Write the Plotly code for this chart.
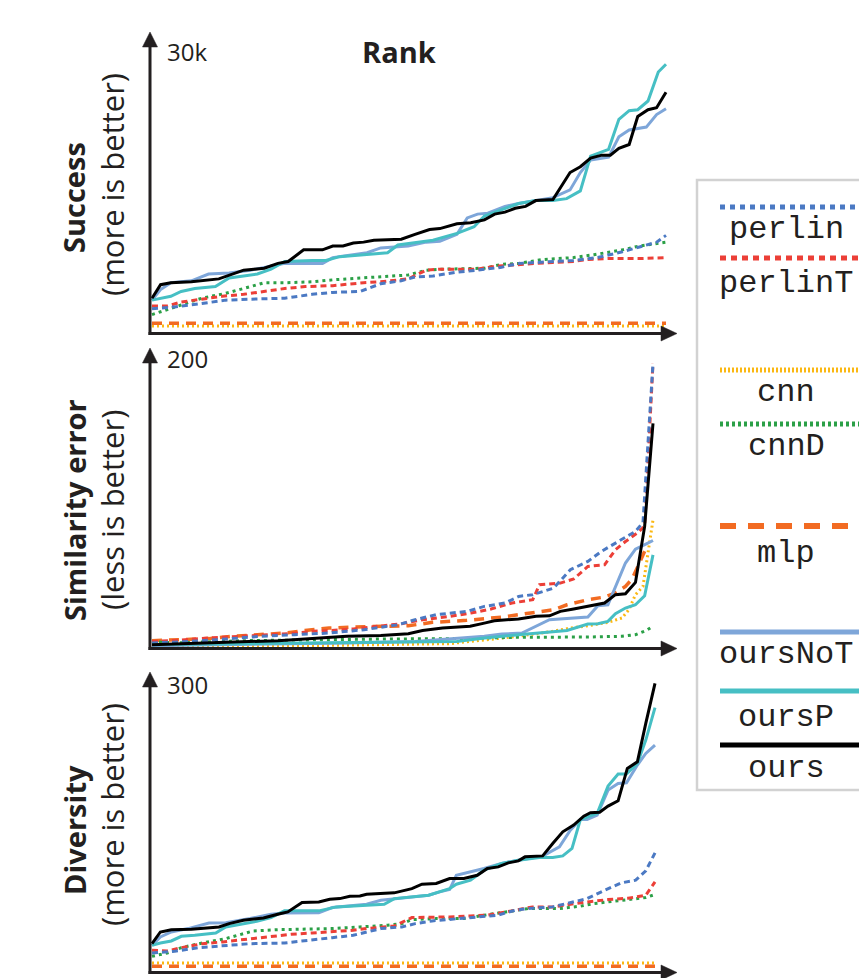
import plotly.graph_objects as go

W, H = 859, 978

# ---------------- DATA (rank 0..60) ----------------
# Panel 1: Success (thousands)
succ_perlin_r = [0, 2.6, 5.4, 8.6, 11.5, 15.5, 18.7, 21.1, 24.3, 26.7, 29.1, 30.7, 32.8, 35.6, 38.0, 40.8, 42.8, 46.8, 49.2, 52.0, 54.9, 56.9, 58.9, 60]
succ_perlin_v = [2.5, 2.7, 3.0, 3.4, 3.5, 3.6, 4.0, 4.2, 4.3, 5.1, 5.4, 5.8, 5.9, 6.3, 6.5, 6.8, 7.2, 7.4, 7.5, 7.8, 8.4, 8.9, 9.4, 10.1]
succ_perlinT_r = [0, 1.8, 3.4, 5.8, 8.2, 10.7, 13.1, 15.5, 17.9, 21.1, 24.7, 26.7, 29.9, 32.0, 33.6, 36.0, 38.0, 40.0, 42.8, 44.8, 46.8, 49.2, 50.8, 53.3, 56.9, 60]
succ_perlinT_v = [2.8, 2.8, 3.2, 3.5, 3.8, 4.0, 4.3, 4.6, 4.8, 4.9, 5.2, 5.3, 5.6, 6.5, 6.6, 6.6, 6.6, 6.9, 7.1, 7.2, 7.3, 7.4, 7.6, 7.7, 7.7, 7.8]
succ_cnn_r = [0, 60]
succ_cnn_v = [0.72, 0.72]
succ_cnnD_r = [0, 1.8, 3.4, 5.8, 8.6, 11.9, 13.1, 15.5, 18.7, 21.1, 24.3, 27.5, 29.9, 32.0, 34.0, 38.8, 40.8, 42.8, 45.6, 49.2, 51.6, 54.9, 56.9, 60]
succ_cnnD_v = [1.9, 2.4, 2.9, 3.6, 4.1, 4.9, 5.2, 5.2, 5.3, 5.5, 5.7, 5.9, 6.0, 6.5, 6.6, 6.7, 7.1, 7.2, 7.6, 7.8, 8.1, 8.6, 9.0, 9.4]
succ_mlp_r = [0, 60]
succ_mlp_v = [1.0, 1.0]
succ_oursNoT_r = [0, 1.0, 2.2, 4.6, 6.6, 9.0, 11.5, 13.9, 15.5, 19.9, 21.1, 25.1, 26.7, 29.9, 32.0, 33.6, 35.6, 36.8, 38.0, 39.2, 41.2, 42.8, 46.8, 48.8, 50.0, 51.2, 53.3, 54.5, 55.7, 57.7, 58.9, 60]
succ_oursNoT_v = [3.4, 4.5, 5.2, 5.4, 6.1, 6.2, 6.5, 6.9, 7.2, 7.2, 7.8, 8.3, 8.8, 9.0, 9.4, 9.5, 10.2, 11.9, 12.3, 12.4, 13.1, 13.4, 14.0, 14.8, 16.6, 17.9, 18.2, 20.3, 21.0, 21.3, 22.6, 23.2]
succ_oursP_r = [0, 1.0, 2.2, 3.4, 5.0, 7.4, 9.0, 10.7, 12.3, 13.9, 15.5, 18.7, 20.3, 21.9, 27.5, 28.7, 32.8, 35.6, 37.6, 38.8, 40.4, 42.8, 44.8, 46.8, 48.4, 50.0, 51.2, 53.3, 54.5, 55.7, 56.7, 57.9, 59.1, 60]
succ_oursP_v = [3.4, 3.6, 3.8, 4.3, 4.6, 4.8, 5.7, 5.9, 6.1, 6.6, 7.4, 7.5, 7.5, 7.9, 8.3, 9.1, 9.6, 10.3, 11.0, 12.1, 12.6, 13.4, 13.7, 13.7, 13.9, 14.7, 18.3, 19.0, 22.1, 23.0, 23.1, 24.0, 27.0, 27.8]
succ_ours_r = [0, 1.0, 2.2, 4.6, 7.8, 9.0, 10.7, 11.9, 13.1, 14.7, 15.9, 17.7, 19.9, 21.1, 22.3, 23.5, 24.7, 25.9, 29.1, 30.7, 32.4, 33.6, 35.6, 37.2, 38.8, 40.0, 41.2, 42.4, 43.6, 44.8, 46.8, 48.8, 50.0, 51.2, 52.5, 53.5, 54.5, 55.7, 56.7, 57.9, 58.9, 60]
succ_ours_v = [3.6, 5.0, 5.2, 5.3, 5.6, 6.0, 6.5, 6.6, 6.7, 7.2, 7.4, 8.6, 8.6, 9.0, 9.0, 9.3, 9.4, 9.6, 9.7, 10.2, 10.7, 10.8, 11.3, 11.4, 11.7, 12.3, 12.5, 12.9, 13.1, 13.7, 13.8, 16.6, 17.2, 18.1, 18.4, 18.4, 19.1, 19.5, 22.4, 23.1, 23.3, 24.9]

# Panel 2: Similarity error
sim_perlin_r = [0, 4.7, 8.9, 13.0, 17.1, 21.2, 25.4, 29.5, 31.5, 34.0, 37.7, 39.8, 42.3, 43.9, 45.6, 48.1, 50.1, 52.2, 53.8, 56.3, 57.9, 58.8, 60]
sim_perlin_v = [3.4, 4.5, 6.1, 8.0, 9.1, 10.2, 12.5, 15.9, 19.3, 22.7, 25.0, 28.4, 30.7, 35.2, 36.4, 40.9, 53.4, 59.1, 65.9, 73.9, 79.6, 85.7, 194.3]
sim_perlinT_r = [0, 2.7, 6.8, 10.9, 15.1, 17.5, 19.2, 21.2, 24.1, 27.4, 29.9, 32.4, 35.7, 38.2, 40.6, 43.1, 45.6, 46.4, 48.9, 50.5, 52.2, 54.2, 55.5, 56.7, 58.1, 59.0, 60]
sim_perlinT_v = [4.5, 5.2, 6.8, 8.0, 9.1, 10.2, 11.4, 11.8, 13.0, 14.8, 16.6, 19.3, 21.6, 23.9, 26.6, 30.7, 33.0, 43.2, 44.3, 47.1, 55.7, 56.8, 67.1, 72.7, 78.4, 83.0, 194.3]
sim_cnn_r = [0, 19.2, 35.7, 39.8, 43.9, 48.0, 50.1, 52.2, 54.6, 56.3, 57.1, 57.9, 58.8, 59.4, 60]
sim_cnn_v = [1.1, 1.6, 3.0, 5.7, 8.0, 11.4, 13.6, 15.2, 17.5, 20.5, 26.1, 36.4, 42.0, 64.8, 87.5]
sim_cnnD_r = [0, 2.7, 10.9, 19.2, 27.4, 35.7, 43.9, 52.2, 56.3, 57.9, 59.2, 60]
sim_cnnD_v = [4.5, 3.4, 5.0, 5.7, 6.1, 6.4, 7.3, 7.5, 8.0, 9.1, 12.0, 14.8]
sim_mlp_r = [0, 2.7, 6.8, 9.7, 12.6, 15.9, 18.3, 21.2, 24.1, 27.4, 30.7, 33.6, 37.7, 41.9, 45.6, 48.1, 49.7, 52.2, 54.2, 55.5, 56.7, 57.5, 59.0]
sim_mlp_v = [5.0, 5.7, 6.4, 8.0, 9.1, 10.2, 12.0, 13.6, 14.3, 14.8, 15.2, 17.5, 18.9, 21.1, 23.9, 26.1, 29.5, 33.0, 34.8, 37.5, 42.0, 47.1, 66.0]
sim_oursNoT_r = [0, 10.9, 23.3, 31.5, 37.7, 39.8, 41.9, 44.3, 47.6, 52.2, 53.4, 54.6, 56.7, 57.9, 59.2, 60]
sim_oursNoT_v = [1.6, 2.3, 3.4, 4.5, 6.8, 8.0, 9.5, 10.2, 19.3, 21.1, 28.9, 29.5, 58.0, 67.5, 71.1, 73.4]
sim_oursP_r = [0, 15.1, 27.4, 36.5, 39.8, 43.9, 48.0, 49.7, 52.2, 53.4, 54.6, 55.5, 56.7, 57.9, 59.0, 60]
sim_oursP_v = [2.3, 3.0, 3.9, 4.5, 6.8, 9.1, 11.4, 12.0, 16.4, 16.6, 18.2, 23.4, 27.3, 29.5, 35.7, 63.6]
sim_ours_r = [0, 6.8, 15.1, 23.3, 27.4, 30.7, 32.4, 34.8, 38.1, 39.8, 41.0, 43.9, 46.0, 47.6, 48.9, 50.5, 52.2, 54.2, 55.5, 56.7, 57.9, 59.0, 60]
sim_ours_v = [2.3, 3.4, 5.0, 8.0, 8.6, 9.8, 12.0, 13.6, 14.8, 17.0, 18.6, 19.8, 21.6, 22.0, 25.0, 26.6, 28.4, 30.7, 36.4, 37.0, 44.8, 83.0, 153.4]

# Panel 3: Diversity
div_perlin_r = [0, 2.7, 5.5, 8.8, 11.7, 15.8, 19.1, 21.5, 24.0, 27.3, 29.8, 31.4, 33.4, 36.3, 38.8, 41.2, 43.3, 44.9, 47.8, 50.3, 51.9, 54.0, 56.0, 57.7, 58.9, 60]
div_perlin_v = [19.5, 21.3, 25.0, 27.4, 29.1, 29.8, 32.6, 35.3, 37.7, 44.6, 46.3, 49.7, 52.5, 54.9, 56.6, 58.3, 63.4, 65.2, 66.9, 72.0, 75.4, 84.0, 91.6, 94.3, 103.9, 122.4]
div_perlinT_r = [0, 1.8, 3.5, 6.0, 8.4, 10.9, 14.2, 16.6, 19.1, 21.5, 24.0, 25.6, 28.9, 31.0, 33.4, 35.5, 38.0, 40.0, 42.9, 45.4, 47.8, 50.3, 51.9, 54.4, 56.8, 58.9, 60]
div_perlinT_v = [22.3, 21.6, 25.0, 29.1, 30.9, 33.3, 36.7, 38.7, 40.1, 41.1, 42.9, 44.6, 47.3, 55.9, 55.9, 56.6, 57.6, 58.3, 62.8, 66.9, 66.9, 70.3, 72.0, 74.4, 75.8, 78.9, 92.6]
div_cnn_r = [0, 60]
div_cnn_v = [9.3, 9.3]
div_cnnD_r = [0, 1.8, 3.5, 6.0, 8.8, 12.1, 15.0, 19.1, 21.5, 24.8, 28.1, 29.8, 31.0, 33.9, 37.2, 39.6, 42.1, 44.9, 48.6, 51.1, 52.7, 56.0, 58.9, 60]
div_cnnD_v = [16.1, 19.5, 25.0, 29.8, 34.3, 42.2, 43.5, 44.6, 44.6, 46.3, 48.0, 49.7, 53.8, 54.9, 54.9, 58.3, 61.7, 65.2, 65.2, 67.6, 70.3, 73.7, 76.5, 79.6]
div_mlp_r = [0, 60]
div_mlp_v = [5.8, 5.8]
div_oursNoT_r = [0, 1.0, 2.3, 4.3, 6.8, 8.8, 11.7, 14.2, 15.8, 19.9, 21.5, 25.6, 27.3, 30.6, 33.0, 34.3, 35.5, 36.3, 38.0, 39.6, 41.7, 43.7, 46.6, 48.6, 49.9, 51.1, 51.9, 53.1, 54.4, 55.6, 56.6, 57.9, 58.9, 60]
div_oursNoT_v = [27.4, 36.0, 41.1, 44.6, 50.4, 50.7, 54.9, 59.3, 60.7, 61.0, 66.2, 69.6, 73.7, 76.5, 78.9, 82.3, 84.7, 99.4, 102.9, 106.3, 111.4, 114.9, 119.0, 128.6, 145.7, 156.7, 156.7, 161.2, 186.9, 193.7, 194.4, 212.6, 224.6, 233.2]
div_oursP_r = [0, 1.0, 2.3, 3.5, 5.1, 7.6, 8.8, 10.9, 12.5, 14.2, 15.8, 19.9, 22.0, 27.7, 28.9, 33.0, 35.5, 36.3, 38.0, 39.6, 41.7, 43.7, 46.2, 47.8, 49.0, 50.1, 51.1, 53.1, 54.4, 55.6, 56.6, 57.9, 58.9, 60]
div_oursP_v = [27.4, 29.8, 31.9, 36.7, 37.7, 40.1, 46.3, 49.7, 52.1, 55.9, 62.8, 62.8, 66.9, 69.6, 75.4, 78.9, 85.7, 90.2, 94.3, 104.6, 111.4, 114.9, 117.6, 117.6, 119.3, 126.9, 156.7, 162.9, 191.0, 203.3, 203.3, 214.3, 238.3, 271.6]
div_ours_r = [0, 1.0, 2.3, 4.7, 8.0, 9.2, 10.9, 12.1, 13.3, 15.0, 16.2, 17.9, 19.9, 21.2, 22.4, 23.6, 24.8, 25.6, 28.9, 31.0, 32.2, 33.9, 35.5, 37.2, 38.8, 40.0, 41.3, 42.5, 43.7, 44.5, 46.6, 47.8, 49.0, 50.3, 51.5, 52.3, 53.4, 54.4, 55.6, 56.7, 57.9, 58.9, 60]
div_ours_v = [29.1, 41.1, 43.5, 43.9, 46.3, 49.7, 53.1, 54.5, 55.5, 59.3, 61.7, 71.3, 72.0, 74.8, 75.4, 77.8, 78.2, 79.9, 81.3, 85.7, 90.2, 90.9, 96.0, 96.0, 99.4, 106.3, 108.0, 112.1, 114.2, 118.3, 119.3, 132.0, 144.0, 150.9, 160.1, 163.6, 164.2, 170.4, 175.9, 209.2, 216.0, 255.5, 296.6]

methods = ["perlin", "perlinT", "cnn", "cnnD", "mlp", "oursNoT", "oursP", "ours"]
panel_names = ["succ", "sim", "div"]
tick_labels = ["30k", "200", "300"]
axis_max = [30, 200, 300]
row_titles = ["Success", "Similarity error", "Diversity"]
row_subtitles = ["(more is better)", "(less is better)", "(more is better)"]

# ---------------- STYLE ----------------
style = {
    "perlin":  dict(color="#4b79c3", dash="6px,4px", width=3),
    "perlinT": dict(color="#ec3f37", dash="6px,4px", width=3),
    "cnn":     dict(color="#fbb812", dash="2px,3px", width=3),
    "cnnD":    dict(color="#2ba047", dash="3px,4px", width=3),
    "mlp":     dict(color="#f26b22", dash="10px,7px", width=3.5),
    "oursNoT": dict(color="#7ea6d9", dash="solid", width=3),
    "oursP":   dict(color="#46bfc4", dash="solid", width=3),
    "ours":    dict(color="#000000", dash="solid", width=3),
}
draw_order = ["cnn", "mlp", "cnnD", "perlinT", "perlin", "oursNoT", "oursP", "ours"]

# panel pixel geometry: x of rank 0, x of rank 60, y of value 0, y of axis max
geom = [
    dict(x0=152, x60=666, ybot=333, ytop=43, tip=32),
    dict(x0=152, x60=653, ybot=648, ytop=355, tip=348),
    dict(x0=152, x60=655, ybot=972, ytop=680, tip=672),
]
label_y = [52, 358, 684]
title_y = [198, 510, 830]
sub_y = [184, 510, 814]

AX = "#231f20"
FONT_BOLD = "Open Sans"
FONT_REG = "Open Sans"
MONO = "Liberation Mono, Courier New, monospace"

data = globals()
fig = go.Figure()
layout_axes = {}
shapes = []
annotations = []

def px(x):
    return x / W

def py(y):
    return 1 - y / H

for i, pname in enumerate(panel_names):
    g = geom[i]
    k = "" if i == 0 else str(i + 1)
    xs = (g["x60"] - g["x0"]) / 60.0
    ys = (g["ybot"] - g["ytop"]) / axis_max[i]
    padl, padr, padb, padt = 3, 5, 3, 8
    xdom = [px(g["x0"] - padl), px(g["x60"] + padr)]
    xrng = [-padl / xs, 60 + padr / xs]
    ydom = [py(g["ybot"] + padb), py(g["ytop"] - padt)]
    yrng = [-padb / ys, axis_max[i] + padt / ys]
    layout_axes["xaxis" + k] = dict(domain=xdom, range=xrng, visible=False, fixedrange=True)
    layout_axes["yaxis" + k] = dict(domain=ydom, range=yrng, visible=False, fixedrange=True)
    for m in draw_order:
        r = data[f"{pname}_{m}_r"]
        v = data[f"{pname}_{m}_v"]
        st = style[m]
        fig.add_trace(go.Scatter(
            x=r, y=v, mode="lines", name=m, showlegend=False,
            xaxis="x" + k, yaxis="y" + k,
            line=dict(color=st["color"], dash=st["dash"], width=st["width"]),
            hoverinfo="skip",
        ))
    # axes with arrows
    ax_x = 150
    yb = g["ybot"] + 0.5
    shapes.append(dict(type="line", xref="paper", yref="paper",
                       x0=px(ax_x), x1=px(ax_x), y0=py(yb + 1.5), y1=py(g["tip"] + 12),
                       line=dict(color=AX, width=3)))
    shapes.append(dict(type="path", xref="paper", yref="paper",
                       path=f"M {px(ax_x)},{py(g['tip'])} L {px(ax_x - 7.5)},{py(g['tip'] + 15)} L {px(ax_x + 7.5)},{py(g['tip'] + 15)} Z",
                       fillcolor=AX, line=dict(color=AX, width=0.5)))
    shapes.append(dict(type="line", xref="paper", yref="paper",
                       x0=px(ax_x - 1.5), x1=px(663), y0=py(yb), y1=py(yb),
                       line=dict(color=AX, width=3)))
    shapes.append(dict(type="path", xref="paper", yref="paper",
                       path=f"M {px(677)},{py(yb)} L {px(661)},{py(yb - 7.5)} L {px(661)},{py(yb + 7.5)} Z",
                       fillcolor=AX, line=dict(color=AX, width=0.5)))
    annotations.append(dict(text=tick_labels[i], x=px(165), y=py(label_y[i]), xref="paper", yref="paper",
                            xanchor="left", yanchor="middle", showarrow=False,
                            font=dict(family=FONT_REG, size=24, color=AX)))
    annotations.append(dict(text="<b>" + row_titles[i] + "</b>", x=px(74), y=py(title_y[i]), xref="paper", yref="paper",
                            xanchor="center", yanchor="middle", showarrow=False, textangle=-90,
                            font=dict(family=FONT_BOLD, size=29, color=AX)))
    annotations.append(dict(text=row_subtitles[i], x=px(112), y=py(sub_y[i]), xref="paper", yref="paper",
                            xanchor="center", yanchor="middle", showarrow=False, textangle=-90,
                            font=dict(family=FONT_REG, size=31, color=AX)))

annotations.append(dict(text="<b>Rank</b>", x=px(399), y=py(52), xref="paper", yref="paper",
                        xanchor="center", yanchor="middle", showarrow=False,
                        font=dict(family=FONT_BOLD, size=29, color=AX)))

# ---------------- custom legend ----------------
shapes.append(dict(type="rect", xref="paper", yref="paper",
                   x0=px(697), x1=px(880), y0=py(180), y1=py(790),
                   line=dict(color="#d2d2d2", width=2.5), fillcolor="rgba(0,0,0,0)"))
legend_line_y = [207, 258, 370, 424, 526, 632, 691, 745]
legend_text_y = [229, 284, 392, 446, 553, 654, 717, 768]
legend_style = {
    "perlin":  dict(dash="5px,5px", width=5),
    "perlinT": dict(dash="6px,5px", width=5),
    "cnn":     dict(dash="2px,2px", width=5),
    "cnnD":    dict(dash="3px,3px", width=5),
    "mlp":     dict(dash="16px,12px", width=6),
    "oursNoT": dict(dash="solid", width=5),
    "oursP":   dict(dash="solid", width=5),
    "ours":    dict(dash="solid", width=5),
}
for j, m in enumerate(methods):
    ls = legend_style[m]
    shapes.append(dict(type="line", xref="paper", yref="paper",
                       x0=px(720), x1=px(875), y0=py(legend_line_y[j]), y1=py(legend_line_y[j]),
                       line=dict(color=style[m]["color"], width=ls["width"], dash=ls["dash"])))
    annotations.append(dict(text=m, x=px(786), y=py(legend_text_y[j]), xref="paper", yref="paper",
                            xanchor="center", yanchor="middle", showarrow=False,
                            font=dict(family=MONO, size=32, color=AX)))

fig.update_layout(
    width=W, height=H,
    margin=dict(l=0, r=0, t=0, b=0),
    paper_bgcolor="white", plot_bgcolor="white",
    showlegend=False,
    shapes=shapes, annotations=annotations,
    **layout_axes,
)

fig.write_html("out.html", config={"displayModeBar": False},
               post_script="document.body.style.margin='0';document.body.style.overflow='hidden';")
